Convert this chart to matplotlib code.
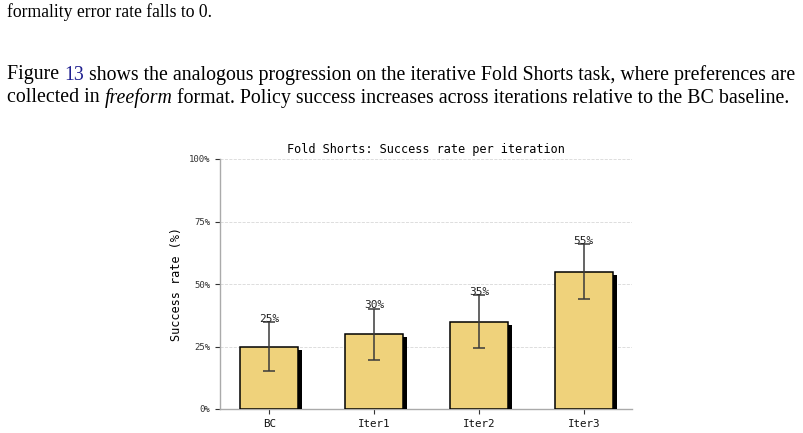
import matplotlib
matplotlib.use("Agg")
import matplotlib.pyplot as plt
import matplotlib.patheffects as pe
from matplotlib.ticker import FuncFormatter

categories = ["BC", "Iter1", "Iter2", "Iter3"]
success = [25, 30, 35, 55]
errors = [9.7, 10.2, 10.7, 11.1]
yticks = [0, 25, 50, 75, 100]

W, H, DPI = 804, 433, 100
fig = plt.figure(figsize=(W / DPI, H / DPI), dpi=DPI)

# ---- surrounding document text ----
serif = "Liberation Serif"
renderer = fig.canvas.get_renderer()


def plain_line(pieces, x_px, y_px, fs):
    x = x_px / W
    for txt, kw in pieces:
        t = fig.text(x, 1 - y_px / H, txt, fontsize=fs, family=serif,
                     va="center", ha="left", **kw)
        x += t.get_window_extent(renderer=renderer).width / W


plain_line([("formality error rate falls to 0.", {})], 7, 12, 12.7)
plain_line([("Figure ", {}), ("13", {"color": "#1f1f8f"}),
            (" shows the analogous progression on the iterative Fold Shorts task, where preferences are", {})],
           7, 75, 14.3)
plain_line([("collected in ", {}), ("freeform", {"style": "italic"}),
            (" format. Policy success increases across iterations relative to the BC baseline.", {})],
           7, 98, 14.3)

# ---- chart ----
ax = fig.add_axes([220 / W, 1 - 409 / H, (632 - 220) / W, (409 - 159) / H])
x = list(range(len(categories)))
bars = ax.bar(x, success, width=0.55, color="#EFD27B", edgecolor="black",
              linewidth=1.1, zorder=3)
for b in bars:
    b.set_path_effects([pe.SimplePatchShadow(offset=(3, -2.5), shadow_rgbFace="black", alpha=1.0),
                        pe.Normal()])
ax.errorbar(x, success, yerr=errors, fmt="none", ecolor="#3a3a3a",
            elinewidth=1.1, capsize=4, capthick=1.1, zorder=4)
for xi, v, e in zip(x, success, errors):
    ax.text(xi, v + e - 0.8, f"{v}%", ha="center", va="bottom",
            fontsize=8, family="DejaVu Sans Mono", color="#222222", zorder=5)

ax.set_xlim(-0.47, 3.46)
ax.set_ylim(0, 100)
ax.set_yticks(yticks)
ax.yaxis.set_major_formatter(FuncFormatter(lambda v, p: f"{int(v)}%"))
ax.set_xticks(x)
ax.set_xticklabels(categories)
for lab in ax.get_xticklabels():
    lab.set_family("DejaVu Sans Mono"); lab.set_fontsize(7.8)
for lab in ax.get_yticklabels():
    lab.set_family("DejaVu Sans Mono"); lab.set_fontsize(6.5)
ax.tick_params(axis="both", colors="#333333", length=3.5, width=0.8)
ax.tick_params(axis="x", labelcolor="#111111")
ax.grid(axis="y", linestyle="--", color="#d8d8d8", linewidth=0.6, zorder=0)
ax.set_axisbelow(True)
for s in ["top", "right"]:
    ax.spines[s].set_visible(False)
for s in ["left", "bottom"]:
    ax.spines[s].set_color("#aaaaaa")
    ax.spines[s].set_linewidth(1.0)
ax.set_ylabel("Success rate (%)", family="DejaVu Sans Mono", fontsize=8.6, labelpad=4)
ax.set_title("Fold Shorts: Success rate per iteration", family="DejaVu Sans Mono",
             fontsize=8.6, pad=4)

fig.savefig("out.png", dpi=DPI)
